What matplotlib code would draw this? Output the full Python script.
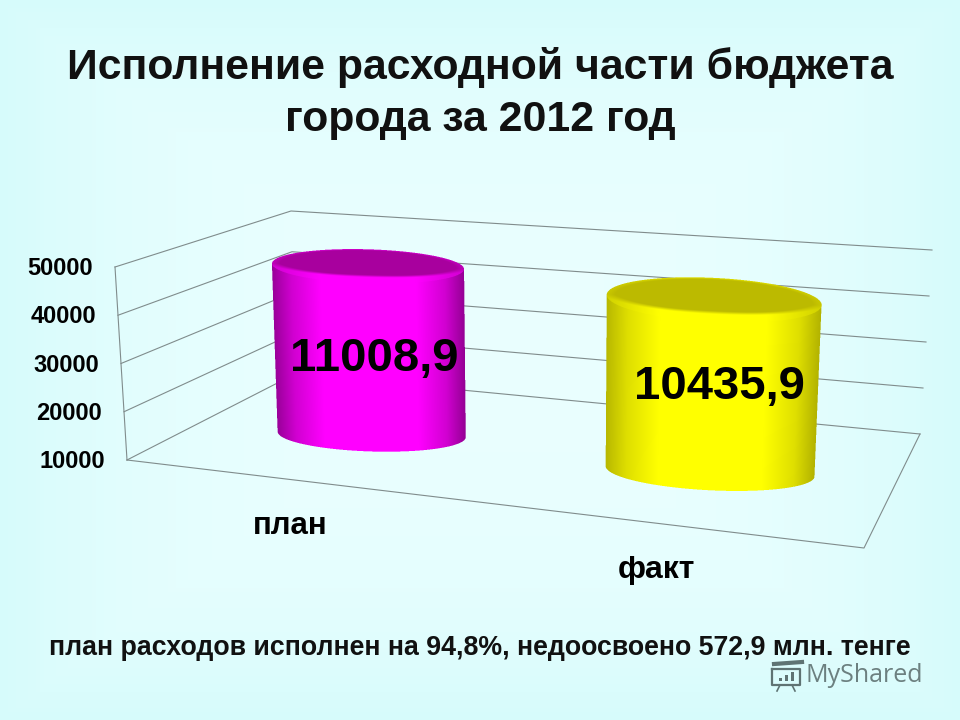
import numpy as np
import matplotlib
matplotlib.use("Agg")
import matplotlib.pyplot as plt

plt.rcParams['font.family'] = ['Liberation Sans', 'DejaVu Sans']

# values
categories = ["план", "факт"]
budget_values = [11008.9, 10435.9]
bar_levels = [47100, 46400]   # height of the drums read against the axis
axis_ticks = [10000, 20000, 30000, 40000, 50000]

title_lines = ["Исполнение расходной части бюджета", "города за 2012 год"]
footer = "план расходов исполнен на 94,8%, недоосвоено 572,9 млн. тенге"

# box corners in pixels, floor then ceiling (front-left, front-right, back-right, back-left)
floor_box = np.array([[127, 460], [864, 548], [920, 434], [295, 374]], dtype=float)
top_box = np.array([[115, 267], [870, 348], [932, 250], [291, 211]], dtype=float)


def project(u, w, v):
    t = (v - axis_ticks[0]) / (axis_ticks[-1] - axis_ticks[0])
    weights = [(1 - u) * (1 - w), u * (1 - w), u * w, (1 - u) * w]
    low = sum(a * b for a, b in zip(weights, floor_box))
    high = sum(a * b for a, b in zip(weights, top_box))
    return low + (high - low) * t


def ellipse_coords(x, y, c, a, b, k):
    # pixel -> unit circle coordinates of a slightly tilted ellipse
    dx = x - c[0]
    dy = y - c[1]
    det = a * b * (1 + k * k)
    return (b * dx + b * k * dy) / det, (a * dy - a * k * dx) / det


fig = plt.figure(figsize=(9.6, 7.2), dpi=100)
ax = fig.add_axes([0, 0, 1, 1])
ax.set_xlim(0, 960)
ax.set_ylim(720, 0)
ax.axis('off')

# pale cyan background, lighter in the middle
gx, gy = np.meshgrid(np.linspace(-1, 1, 240), np.linspace(-1, 1, 180))
edge = np.clip(np.maximum(np.abs(gx), np.abs(gy)), 0, 1) ** 3
bg = np.zeros((180, 240, 3))
bg[..., 0] = 0.915 - 0.075 * edge
bg[..., 1] = 1.0 - 0.015 * edge
bg[..., 2] = 1.0 - 0.015 * edge
ax.imshow(bg, extent=[0, 960, 720, 0], aspect='auto', zorder=0)

# walls and floor
line_color = '#808c8c'
for v in axis_ticks:
    a = project(0, 0, v)
    b = project(0, 1, v)
    c = project(1, 1, v)
    ax.plot([a[0], b[0], c[0]], [a[1], b[1], c[1]], color=line_color, lw=0.8, zorder=1)
    ax.text(a[0] - 22, a[1] + 1.5, str(v), ha='right', va='center', fontsize=17,
            fontweight='bold', color='black', zorder=6)

a = project(0, 0, axis_ticks[0])
b = project(0, 0, axis_ticks[-1])
ax.plot([a[0], b[0]], [a[1], b[1]], color=line_color, lw=0.8, zorder=1)
c = project(1, 0, axis_ticks[0])
d = project(1, 1, axis_ticks[0])
ax.plot([a[0], c[0], d[0]], [a[1], c[1], d[1]], color=line_color, lw=0.8, zorder=1)

# drums
bar_u = [0.236, 0.733]
bar_w = [0.5, 0.5]
radius_top = [96, 107.5]
radius_bottom = [94, 104.5]
depth_top = [17, 22]
depth_bottom = [17, 19]
tilt = [0.03, 0.05]
side_rgb = [np.array([1.0, 0.0, 1.0]), np.array([1.0, 1.0, 0.0])]
cap_rgb = [np.array([0.66, 0.0, 0.62]), np.array([0.74, 0.73, 0.0])]
edge_shade = [0.6, 0.72]
label_offset = [(4, 9), (7, 1)]
cat_size = [22.5, 23]
ss = 3  # supersampling of the drum images

for i, name in enumerate(categories):
    base = project(bar_u[i], bar_w[i], axis_ticks[0])
    top = project(bar_u[i], bar_w[i], bar_levels[i])
    rt, rb = radius_top[i], radius_bottom[i]
    dt, db = depth_top[i], depth_bottom[i]
    k = tilt[i]

    x0 = int(min(top[0] - rt, base[0] - rb)) - 3
    x1 = int(max(top[0] + rt, base[0] + rb)) + 4
    y0 = int(top[1] - dt) - 6
    y1 = int(base[1] + db) + 6
    xs = x0 + (np.arange((x1 - x0) * ss) + 0.5) / ss
    ys = y0 + (np.arange((y1 - y0) * ss) + 0.5) / ss
    X, Y = np.meshgrid(xs, ys)

    # side: x fraction between the two slanted outlines
    s = (Y - top[1]) / (base[1] - top[1])
    xl = (top[0] - rt) + s * ((base[0] - rb) - (top[0] - rt))
    xr = (top[0] + rt) + s * ((base[0] + rb) - (top[0] + rt))
    frac = (X - xl) / (xr - xl)
    ut, vt = ellipse_coords(X, Y, top, rt, dt, k)
    ub, vb = ellipse_coords(X, Y, base, rb, db, k)
    in_cap = ut ** 2 + vt ** 2 <= 1
    in_base = ub ** 2 + vb ** 2 <= 1
    below_top = Y - (top[1] + k * (X - top[0])) >= 0
    above_base = Y - (base[1] + k * (X - base[0])) <= 0
    in_side = (frac >= 0) & (frac <= 1) & below_top & (above_base | in_base)

    e = edge_shade[i]
    shade = np.interp(frac, [0, 0.1, 0.25, 0.75, 0.9, 1],
                      [e, e + (1 - e) * 0.55, 1, 1, e + (1 - e) * 0.55, e - 0.02])
    rgb = shade[..., None] * side_rgb[i]

    # cap: dark disc, front rim fading into the side
    rad = np.sqrt(ut ** 2 + vt ** 2)
    sin_p = vt / np.maximum(rad, 1e-6)
    limit = 0.92 - 0.42 * np.maximum(sin_p, 0)
    band = np.clip((rad - limit) / 0.14, 0, 1)[..., None]
    rim = side_rgb[i] * np.interp(np.abs(ut), [0, 0.5, 1], [1, 1, 0.82])[..., None]
    cap = cap_rgb[i] * (1 - band) + rim * band
    rgb = np.where(in_cap[..., None], cap, rgb)

    alpha = (in_cap | in_side).astype(float)
    premult = rgb * alpha[..., None]
    h, w = alpha.shape[0] // ss, alpha.shape[1] // ss
    alpha_px = alpha.reshape(h, ss, w, ss).mean(axis=(1, 3))
    rgb_px = premult.reshape(h, ss, w, ss, 3).mean(axis=(1, 3))
    rgb_px = rgb_px / np.maximum(alpha_px[..., None], 1e-6)
    image = np.dstack([np.clip(rgb_px, 0, 1), alpha_px])
    ax.imshow(image, extent=[x0, x1, y1, y0], aspect='auto', interpolation='nearest', zorder=3)

    mid = (top + base) / 2
    label = f"{budget_values[i]:.1f}".replace('.', ',')
    ax.text(mid[0] + label_offset[i][0], mid[1] + label_offset[i][1], label, ha='center',
            va='center', fontsize=34, fontweight='bold', color='black', zorder=6)

    front = project(bar_u[i], 0, axis_ticks[0])
    ax.text(front[0] - 11, front[1] + 45, name, ha='center', va='center', fontsize=cat_size[i],
            fontweight='bold', color='black', zorder=6)

ax.text(480, 67.5, title_lines[0], ha='center', va='center', fontsize=30.8, fontweight='bold',
        color='#111111', zorder=6)
ax.text(480, 120, title_lines[1], ha='center', va='center', fontsize=30.8, fontweight='bold',
        color='#111111', zorder=6)
ax.text(480, 648, footer, ha='center', va='center', fontsize=19.3, fontweight='bold',
        color='#111111', zorder=6)

# watermark
ax.text(806, 675, "MyShared", ha='left', va='center', fontsize=18, family='Open Sans',
        color='#6c8080', zorder=6)
ax.plot([772, 800, 800, 772, 772], [669, 669, 685, 685, 669], color='#5f7373', lw=1.6, zorder=6)
ax.plot([774, 802], [664, 662], color='#5f7373', lw=3, zorder=6)
ax.plot([780, 777], [685, 691], color='#5f7373', lw=1.2, zorder=6)
ax.plot([792, 795], [685, 691], color='#5f7373', lw=1.2, zorder=6)
ax.bar([780, 786, 792], [3, 6, 9], bottom=[678, 675, 672], width=3, color='#5f7373', zorder=6)
ax.set_xlim(0, 960)
ax.set_ylim(720, 0)

fig.savefig("out.png", dpi=100)
